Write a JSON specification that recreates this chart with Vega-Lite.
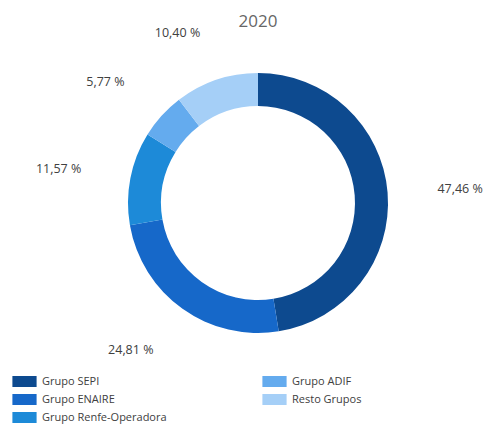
{
  "$schema": "https://vega.github.io/schema/vega-lite/v6.json",
  "width": 466,
  "height": 406,
  "autosize": {"type": "none"},
  "padding": {"left": 25, "top": 0, "right": 0, "bottom": 23},
  "background": "white",
  "title": {"text": "2020", "fontSize": 17, "font": "Open Sans", "fontWeight": "normal", "color": "#666666", "offset": -31, "anchor": "middle", "frame": "group"},
  "config": {"view": {"stroke": null}},
  "data": {"values": [
    {"grupo": "Grupo SEPI", "valor": 47.46, "etiqueta": "47,46 %", "orden": 1},
    {"grupo": "Grupo ENAIRE", "valor": 24.81, "etiqueta": "24,81 %", "orden": 2},
    {"grupo": "Grupo Renfe-Operadora", "valor": 11.57, "etiqueta": "11,57 %", "orden": 3},
    {"grupo": "Grupo ADIF", "valor": 5.77, "etiqueta": "5,77 %", "orden": 4},
    {"grupo": "Resto Grupos", "valor": 10.40, "etiqueta": "10,40 %", "orden": 5}
  ]},
  "layer": [
    {
      "mark": {"type": "arc", "radius": 130, "radius2": 97},
      "encoding": {
        "theta": {"field": "valor", "type": "quantitative", "stack": true},
        "order": {"field": "orden", "type": "quantitative"},
        "color": {
          "field": "grupo", "type": "nominal",
          "scale": {
            "domain": ["Grupo SEPI", "Grupo ENAIRE", "Grupo Renfe-Operadora", "Grupo ADIF", "Resto Grupos"],
            "range": ["#0d4a8f", "#1668c9", "#1d8ad8", "#64abee", "#a5cff7"]
          },
          "legend": {
            "title": null,
            "orient": "none",
            "legendX": -6,
            "legendY": 376,
            "columns": 2,
            "symbolType": "M-2.2,-1H2.2V1H-2.2Z",
            "symbolSize": 121,
            "symbolStrokeWidth": 0,
            "symbolOpacity": 1,
            "labelFont": "Open Sans",
            "labelFontSize": 11,
            "labelColor": "#404040",
            "labelOffset": 12,
            "rowPadding": 6,
            "columnPadding": 95,
            "labelLimit": 300
          }
        }
      }
    },
    {
      "mark": {"type": "text", "radius": 180, "align": "left", "baseline": "middle", "font": "Open Sans", "fontSize": 12.5, "color": "#404040"},
      "encoding": {
        "theta": {"field": "valor", "type": "quantitative", "stack": true},
        "order": {"field": "orden", "type": "quantitative"},
        "text": {"condition": {"test": "datum.grupo === 'Grupo SEPI'", "field": "etiqueta"}, "value": ""}
      }
    },
    {
      "mark": {"type": "text", "radius": 180, "align": "right", "baseline": "middle", "font": "Open Sans", "fontSize": 12.5, "color": "#404040"},
      "encoding": {
        "theta": {"field": "valor", "type": "quantitative", "stack": true},
        "order": {"field": "orden", "type": "quantitative"},
        "text": {"condition": {"test": "datum.grupo !== 'Grupo SEPI'", "field": "etiqueta"}, "value": ""}
      }
    }
  ]
}
